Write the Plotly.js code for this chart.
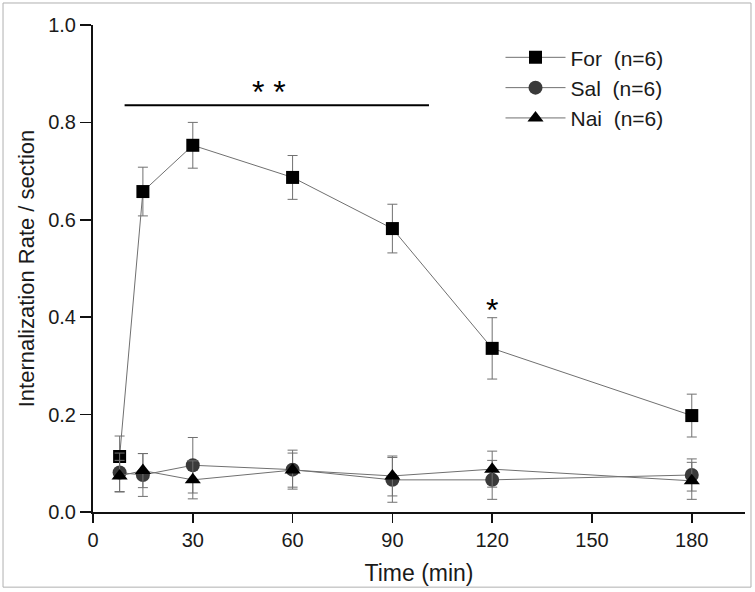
<!DOCTYPE html>
<html><head><meta charset="utf-8">
<script src="https://cdn.plot.ly/plotly-3.0.1.min.js"></script>
<style>body{margin:0;padding:0;background:#fff}#chart{width:755px;height:592px}</style>
</head><body><div id="chart"></div>
<script>
const timeMin = [8, 15, 30, 60, 90, 120, 180];
const forVals = [0.114, 0.658, 0.753, 0.687, 0.582, 0.336, 0.198];
const forErr  = [0.042, 0.050, 0.047, 0.045, 0.050, 0.063, 0.044];
const salVals = [0.081, 0.076, 0.096, 0.087, 0.066, 0.066, 0.076];
const salErr  = [0.040, 0.044, 0.057, 0.040, 0.046, 0.040, 0.033];
const naiVals = [0.074, 0.085, 0.066, 0.086, 0.074, 0.088, 0.064];
const naiErr  = [0.032, 0.035, 0.039, 0.035, 0.041, 0.037, 0.038];
const seriesNames = ['For  (n=6)', 'Sal  (n=6)', 'Nai  (n=6)'];
const sigBar = {x0: 9.5, x1: 101, y: 0.835, label: '* *', labelX: 53, labelY: 0.862};
const sigPoint = {x: 120, y: 0.415, label: '*'};

function tr(name, y, err, symbol, color, size) {
  return {
    x: timeMin, y: y, name: name, type: 'scatter', mode: 'lines+markers',
    line: {color: '#707070', width: 1},
    marker: {symbol: symbol, color: color, size: size},
    error_y: {type: 'data', array: err, visible: true, color: '#707070', thickness: 1, width: 5}
  };
}
const data = [
  tr(seriesNames[0], forVals, forErr, 'square', '#000000', 13),
  tr(seriesNames[1], salVals, salErr, 'circle', '#3a3a3a', 14),
  tr(seriesNames[2], naiVals, naiErr, 'triangle-up', '#000000', 14)
];
const layout = {
  width: 755, height: 592,
  margin: {l: 93, r: 10, t: 25, b: 80},
  paper_bgcolor: '#fff', plot_bgcolor: '#fff',
  font: {family: 'Liberation Sans, Arial, sans-serif', color: '#1a1a1a'},
  xaxis: {
    range: [0, 196], tickvals: [0, 30, 60, 90, 120, 150, 180],
    ticks: 'outside', ticklen: 9, tickwidth: 1.5, tickcolor: '#111',
    showline: true, linecolor: '#111', linewidth: 2, showgrid: false, zeroline: false,
    tickfont: {size: 20},
    title: {text: 'Time (min)', font: {size: 23}, standoff: 15}
  },
  yaxis: {
    range: [0, 1.0], dtick: 0.2, tickformat: '.1f',
    ticks: 'outside', ticklen: 11, tickwidth: 1.5, tickcolor: '#111',
    showline: true, linecolor: '#111', linewidth: 2, showgrid: false, zeroline: false,
    tickfont: {size: 20},
    title: {text: 'Internalization Rate / section', font: {size: 22}, standoff: 7}
  },
  showlegend: true,
  legend: {x: 0.625, y: 0.975, xanchor: 'left', yanchor: 'top', font: {size: 21},
    itemwidth: 60, bgcolor: 'rgba(0,0,0,0)', tracegroupgap: 0},
  shapes: [
    {type: 'line', xref: 'x', yref: 'y', x0: sigBar.x0, x1: sigBar.x1, y0: sigBar.y, y1: sigBar.y,
      line: {color: '#000', width: 2}},
    {type: 'rect', xref: 'paper', yref: 'paper', x0: -0.1380, x1: 1.0092, y0: -0.1543, y1: 1.0452,
      line: {color: '#b0b0b0', width: 1}, layer: 'below'}
  ],
  annotations: [
    {x: sigBar.labelX, y: sigBar.labelY, xref: 'x', yref: 'y', text: sigBar.label, showarrow: false,
      font: {size: 32, color: '#000'}},
    {x: sigPoint.x, y: sigPoint.y, xref: 'x', yref: 'y', text: sigPoint.label, showarrow: false,
      font: {size: 32, color: '#000'}}
  ]
};
Plotly.newPlot('chart', data, layout, {displayModeBar: false, staticPlot: true});
</script></body></html>
